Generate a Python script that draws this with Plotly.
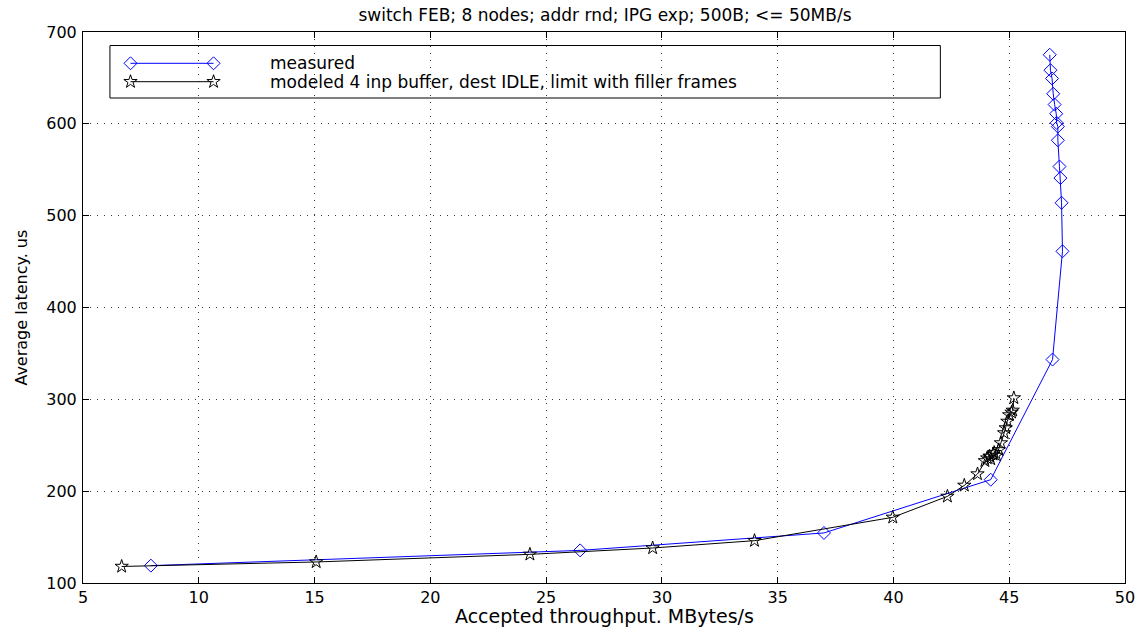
import plotly.graph_objects as go

# ---- data ----
title_text = "switch FEB; 8 nodes; addr rnd; IPG exp; 500B; <= 50MB/s"
x_title = "Accepted throughput. MBytes/s"
y_title = "Average latency. us"
series_names = ["measured", "modeled 4 inp buffer, dest IDLE, limit with filler frames"]

measured_x = [7.93, 26.47, 37.0, 44.2, 46.87, 47.30, 47.26, 47.21, 47.17, 47.10,
              47.10, 47.05, 47.03, 46.96, 46.90, 46.85, 46.78, 46.75]
measured_y = [118.9, 135.5, 154.5, 212.5, 343.3, 461.2, 514.0, 541.0, 553.5, 582.1,
              597.0, 601.0, 611.0, 621.0, 632.7, 649.4, 658.4, 675.2]

modeled_x = [6.67, 15.07, 24.3, 29.6, 34.0, 39.97, 42.33, 43.06, 43.63, 43.95,
             44.05, 44.15, 44.2, 44.3, 44.35, 44.45, 44.55, 44.64, 44.78, 44.85,
             44.92, 45.0, 45.1, 45.15, 45.2]
modeled_y = [118.0, 122.9, 131.2, 138.1, 146.1, 171.5, 194.3, 206.3, 218.7, 233.0,
             236.0, 238.0, 235.0, 240.0, 242.0, 239.0, 245.0, 252.5, 263.4, 268.8,
             276.0, 283.0, 285.8, 288.0, 301.5]

x_ticks = [5, 10, 15, 20, 25, 30, 35, 40, 45, 50]
y_ticks = [100, 200, 300, 400, 500, 600, 700]

# ---- styling ----
FONT = "DejaVu Sans"
BLUE = "#0000ff"
BLACK = "#000000"
W, H = 1147, 628
L, R, T, B = 83, 20, 32, 45
PW, PH = W - L - R, H - T - B


def px_x(p):
    return (p - L) / PW


def px_y(p):
    return (H - B - p) / PH


fig = go.Figure()

fig.add_trace(go.Scatter(
    x=measured_x, y=measured_y, mode="lines+markers", name=series_names[0],
    line=dict(color=BLUE, width=1),
    marker=dict(symbol="diamond-open", size=10, color=BLUE, line=dict(width=1, color=BLUE)),
    showlegend=False, cliponaxis=False))

fig.add_trace(go.Scatter(
    x=modeled_x, y=modeled_y, mode="lines+markers", name=series_names[1],
    line=dict(color=BLACK, width=1),
    marker=dict(symbol="star-open", size=10, color=BLACK, line=dict(width=1, color=BLACK)),
    showlegend=False, cliponaxis=False))

# ---- manual legend on a pixel-coordinate overlay axis ----
leg_rows = [63.3, 81.7]
leg_styles = [
    dict(line=dict(color=BLUE, width=1),
         marker=dict(symbol="diamond-open", size=10, color=BLUE, line=dict(width=1, color=BLUE))),
    dict(line=dict(color=BLACK, width=1),
         marker=dict(symbol="star-open", size=10, color=BLACK, line=dict(width=1, color=BLACK))),
]
for yy, st in zip(leg_rows, leg_styles):
    fig.add_trace(go.Scatter(x=[130.6, 213.8], y=[yy, yy], mode="lines+markers",
                             xaxis="x2", yaxis="y2", showlegend=False,
                             hoverinfo="skip", **st))

fig.add_shape(type="rect", xref="paper", yref="paper",
              x0=px_x(110), x1=px_x(942), y0=px_y(45.5), y1=px_y(98),
              line=dict(color=BLACK, width=1), fillcolor="white", layer="between")

for yy, name in zip(leg_rows, series_names):
    fig.add_annotation(x=px_x(268), y=px_y(yy), xref="paper", yref="paper", text=name,
                       showarrow=False, xanchor="left", yanchor="middle",
                       font=dict(family=FONT, size=17, color=BLACK))

# axis titles
fig.add_annotation(x=0.5, y=px_y(616), xref="paper", yref="paper", yanchor="middle",
                   xanchor="center", text=x_title, showarrow=False,
                   font=dict(family=FONT, size=19, color=BLACK))
fig.add_annotation(x=px_x(21), y=0.5, xref="paper", yref="paper",
                   text=y_title, showarrow=False, textangle=-90,
                   xanchor="center", yanchor="middle",
                   font=dict(family=FONT, size=16, color=BLACK))

grid = dict(showgrid=True, gridcolor="#3a3a3a", gridwidth=1, griddash="1px,6px")
axis_common = dict(showline=True, linecolor=BLACK, linewidth=1, mirror="allticks",
                   ticks="inside", ticklen=6, tickcolor=BLACK, tickwidth=1,
                   zeroline=False, tickfont=dict(family=FONT, size=16, color=BLACK),
                   fixedrange=True, **grid)

fig.update_layout(
    width=W, height=H,
    margin=dict(l=L, r=R, t=T, b=B, pad=0),
    paper_bgcolor="white", plot_bgcolor="white",
    title=dict(text=title_text, x=(L + PW / 2) / W, xref="container",
               xanchor="center", y=1 - 15 / H, yanchor="middle",
               font=dict(family=FONT, size=17, color=BLACK)),
    xaxis=dict(range=[5, 50], tickvals=x_ticks, ticktext=[str(v) for v in x_ticks],
               ticklabelstandoff=0, **axis_common),
    yaxis=dict(range=[100, 700], tickvals=y_ticks, ticktext=[str(v) for v in y_ticks],
               ticklabelstandoff=2, **axis_common),
    xaxis2=dict(overlaying="x", range=[L, W - R], visible=False, fixedrange=True),
    yaxis2=dict(overlaying="y", range=[H - B, T], visible=False, fixedrange=True),
    showlegend=False,
    hovermode=False,
)

fig.write_html("out.html")
